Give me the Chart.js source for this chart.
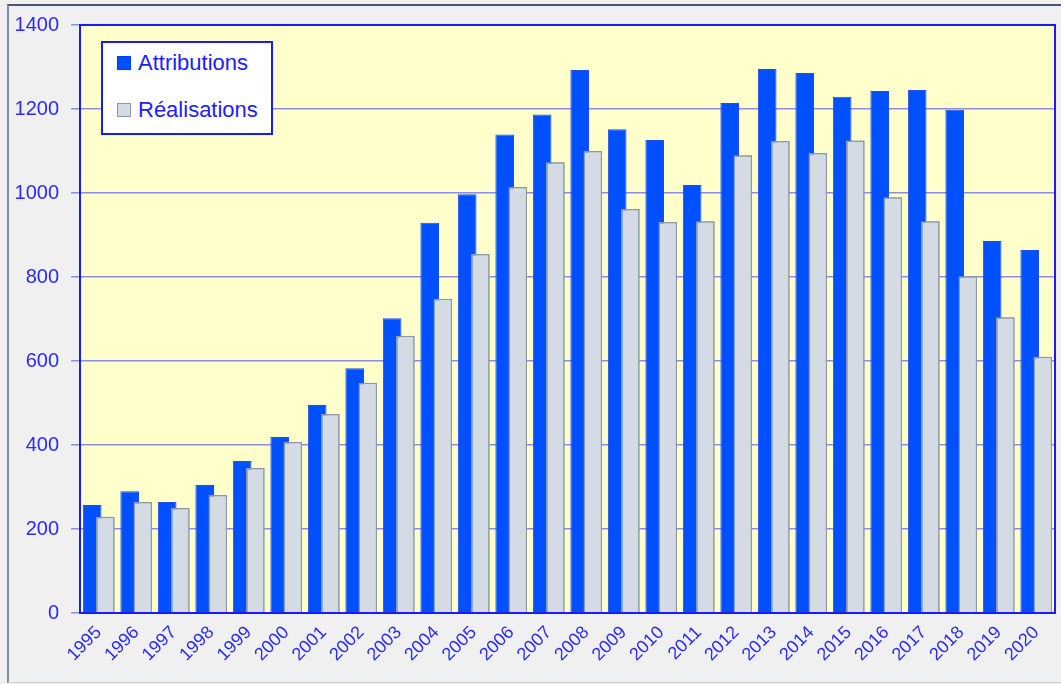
<!DOCTYPE html>
<html>
<head>
<meta charset="utf-8">
<script src="https://cdn.jsdelivr.net/npm/chart.js@4"></script>
<style>
    html, body { margin: 0; padding: 0; background: #f0f0f0; }
    #wrap { position: relative; width: 1061px; height: 684px; }
    #frame { position: absolute; left: 7px; top: 4px; width: 1060px; height: 676px;
             border-left: 2px solid #7f8fb0; border-top: 2px solid #45587a; border-bottom: 1px solid #c8ccd4; }
    #legend { position: absolute; left: 101px; top: 41px; width: 168px; height: 90px;
              background: #fff; border: 2px solid #1a1aff; font-family: 'Liberation Sans', Arial, sans-serif;
              font-size: 22px; color: #2020ff; }
    .item { position: absolute; left: 14px; display: flex; align-items: center; }
    .sw { width: 14px; height: 14px; margin-right: 7px; box-sizing: border-box; }
</style>
</head>
<body>
<div id="wrap">
    <div id="frame"></div>
    <canvas id="chart" width="1061" height="684"></canvas>
    <div id="legend">
        <div class="item" style="top:7px"><span class="sw" style="background:#0050ff;border:1px solid #0040e0"></span>Attributions</div>
        <div class="item" style="top:54px"><span class="sw" style="background:#d4dbe4;border:1px solid #8d9aa6"></span>Réalisations</div>
    </div>
</div>
<script>
const years = ['1995','1996','1997','1998','1999','2000','2001','2002','2003','2004','2005','2006','2007',
               '2008','2009','2010','2011','2012','2013','2014','2015','2016','2017','2018','2019','2020'];
const attributions = [257, 290, 264, 305, 362, 419, 495, 583, 702, 929, 997, 1139, 1187,
                      1293, 1152, 1126, 1019, 1214, 1295, 1286, 1229, 1243, 1245, 1198, 886, 864];
const realisations = [229, 264, 250, 281, 345, 407, 474, 548, 660, 748, 855, 1014, 1073,
                      1100, 962, 931, 933, 1090, 1124, 1095, 1125, 990, 933, 802, 704, 610];
const yTicks = [0, 200, 400, 600, 800, 1000, 1200, 1400];

// background + plot area fill, then grey bars drawn over the blue ones
const plotBg = {
    id: 'plotBg',
    beforeDraw(chart) {
        const { ctx, chartArea: a } = chart;
        ctx.save();
        ctx.fillStyle = '#ffffcc';
        ctx.fillRect(a.left, a.top, a.right - a.left, a.bottom - a.top);
        ctx.restore();
    },
    afterDatasetsDraw(chart) {
        const { ctx, chartArea: a } = chart;
        ctx.save();
        ctx.beginPath();
        ctx.rect(a.left, a.top, a.right - a.left, a.bottom - a.top);
        ctx.clip();
        chart.getDatasetMeta(1).controller.draw();
        ctx.restore();
        ctx.save();
        ctx.strokeStyle = '#1a1aff';
        ctx.lineWidth = 2;
        ctx.strokeRect(a.left, a.top, a.right - a.left, a.bottom - a.top);
        ctx.restore();
    }
};

const ctx = document.getElementById('chart').getContext('2d');
new Chart(ctx, {
    type: 'bar',
    data: {
        labels: years,
        datasets: [{
            label: 'Attributions',
            data: attributions,
            backgroundColor: '#0050ff',
            borderColor: '#1f4fe8',
            borderWidth: 1,
            categoryPercentage: 0.7,
            barPercentage: 1.42
        }, {
            label: 'Réalisations',
            data: realisations,
            backgroundColor: '#d4dbe4',
            borderColor: '#8d9aa6',
            borderWidth: 1.5,
            categoryPercentage: 0.7,
            barPercentage: 1.42
        }]
    },
    options: {
        responsive: false,
        animation: false,
        layout: { padding: { left: 0, top: 25, right: 6, bottom: 0 } },
        plugins: { legend: { display: false }, tooltip: { enabled: false } },
        scales: {
            x: {
                grid: { display: false },
                border: { display: false },
                ticks: {
                    color: '#2a2aff',
                    font: { family: "'Liberation Sans', Arial, sans-serif", size: 18 },
                    minRotation: 45, maxRotation: 45,
                    autoSkip: false,
                    padding: 1
                },
                afterFit(scale) { scale.height = 71; }
            },
            y: {
                min: 0, max: 1400,
                afterBuildTicks(scale) { scale.ticks = yTicks.map(v => ({ value: v })); },
                grid: { color: '#8c8ce6', lineWidth: 1.5, tickLength: 9, drawTicks: true },
                border: { display: false },
                ticks: {
                    color: '#2a2aff',
                    font: { family: "'Liberation Sans', Arial, sans-serif", size: 20 },
                    padding: 12,
                    callback: v => String(v)
                },
                afterFit(scale) { scale.width = 80; }
            }
        }
    },
    plugins: [plotBg]
});
</script>
</body>
</html>
